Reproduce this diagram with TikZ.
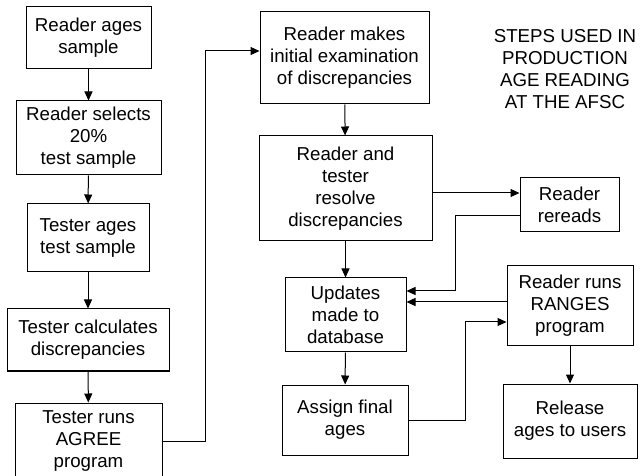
\documentclass[tikz,border=0pt]{standalone}
\usepackage{fontspec}
\setmainfont{Liberation Sans}
\usepackage{tikz}
\usetikzlibrary{arrows.meta}

\tikzset{
  stepbox/.style = {draw, line width = 1pt, align = center, inner sep = 0pt,
                    font = \fontsize{18.7}{22}\selectfont},
  flow/.style    = {line width = 1pt, -{Triangle[length=9pt, width=8pt]}}
}

\begin{document}
\begin{tikzpicture}[x = 1pt, y = -1pt]

  \useasboundingbox (0,0) rectangle (641,476);
  \clip (0,0) rectangle (641,476);

  % Left column: test sample
  \node[stepbox, minimum width = 125pt, minimum height = 62pt] (ages)   at ( 88.5,  38) {Reader ages\\sample};
  \node[stepbox, minimum width = 145pt, minimum height = 74pt] (select) at ( 88.5, 138) {Reader selects\\20\%\\test sample};
  \node[stepbox, minimum width = 122pt, minimum height = 68pt] (tages)  at ( 88  , 238) {Tester ages\\test sample};
  \node[stepbox, minimum width = 162pt, minimum height = 62pt] (calc)   at ( 88  , 340) {Tester calculates\\discrepancies};
  \node[stepbox, minimum width = 147pt, minimum height = 76pt] (agree)  at ( 88.5, 441) {Tester runs\\AGREE\\program};

  % Middle column: discrepancies
  \node[stepbox, minimum width = 169pt, minimum height = 92pt]  (exam)    at (344.5,  58) {Reader makes\\initial examination\\of discrepancies};
  \node[stepbox, minimum width = 173pt, minimum height = 105pt] (resolve) at (345.5, 188.5) {Reader and\\tester\\resolve\\discrepancies};
  \node[stepbox, minimum width = 121pt, minimum height = 74pt]  (update)  at (345.5, 315) {Updates\\made to\\database};
  \node[stepbox, minimum width = 126pt, minimum height = 70pt]  (assign)  at (345  , 420) {Assign final\\ages};

  % Right column
  \node[stepbox, minimum width = 99pt,  minimum height = 54pt] (reread)  at (569.5, 205) {Reader\\rereads};
  \node[stepbox, minimum width = 126pt, minimum height = 80pt] (ranges)  at (570  , 306) {Reader runs\\RANGES\\program};
  \node[stepbox, minimum width = 134pt, minimum height = 74pt] (release) at (570  , 421) {Release\\ages to users};

  % Title
  \node[align = center, inner sep = 0pt, font = \fontsize{18.7}{22}\selectfont] (title) at (565, 69)
    {STEPS USED IN\\PRODUCTION\\AGE READING\\AT THE AFSC};

  % Turning points of the connectors
  \coordinate (jogA) at (205, 51);
  \coordinate (jogB) at (455, 291);
  \coordinate (jogC) at (465, 322);

  % Connectors, left column
  \draw[flow] (ages)   -- (select);
  \draw[flow] (select) -- (tages);
  \draw[flow] (tages)  -- (calc);
  \draw[flow] (calc)   -- (agree);
  \draw[flow] (agree.east) -| (jogA) -- (jogA -| exam.west);

  % Connectors, middle and right
  \draw[flow] (exam)    -- (resolve);
  \draw[flow] ([yshift=12pt]reread.west -| resolve.east) -- ([yshift=12pt]reread.west);
  \draw[flow] ([yshift=-11pt]reread.west) -| (jogB) -- (jogB -| update.east);
  \draw[flow] (resolve.south -| update.north) -- (update.north);
  \draw[flow] ([yshift=4pt]ranges.west) -- ([yshift=4pt]ranges.west -| update.east);
  \draw[flow] (update)  -- (assign);
  \draw[flow] (assign.east) -| (jogC) -- (jogC -| ranges.west);
  \draw[flow] (ranges)  -- (release);

\end{tikzpicture}
\end{document}
